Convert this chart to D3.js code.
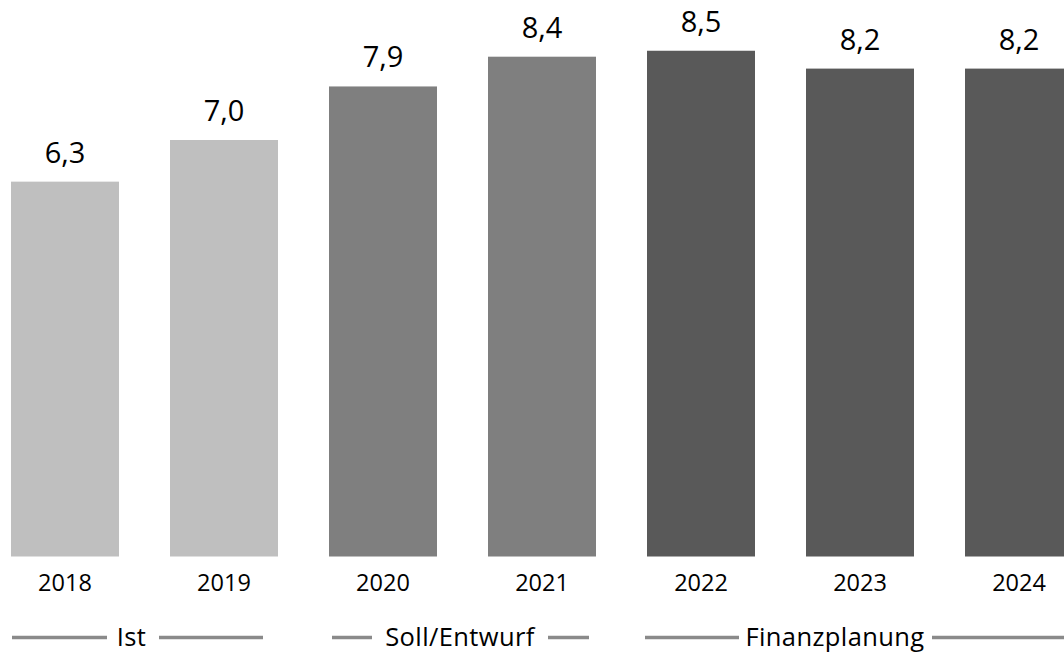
<!DOCTYPE html>
<html>
<head>
<meta charset="utf-8">
<script src="https://cdn.jsdelivr.net/npm/d3@7"></script>
<style>
  html, body { margin: 0; padding: 0; background: #fff; }
  svg { display: block; }
  text { font-family: "Open Sans", "Noto Sans", sans-serif; fill: #000; }
</style>
</head>
<body>
<svg id="chart" width="1064" height="654"></svg>
<script>
// ---- data ----
const years = ["2018", "2019", "2020", "2021", "2022", "2023", "2024"];
const values = [6.3, 7.0, 7.9, 8.4, 8.5, 8.2, 8.2];
const valueLabels = ["6,3", "7,0", "7,9", "8,4", "8,5", "8,2", "8,2"];
const phases = ["Ist", "Ist", "Soll/Entwurf", "Soll/Entwurf", "Finanzplanung", "Finanzplanung", "Finanzplanung"];
const legendLabels = ["Ist", "Soll/Entwurf", "Finanzplanung"];

// ---- layout ----
const W = 1064, H = 654;
const baseY = 556.5;
const svg = d3.select("#chart");

const x = d3.scaleBand().domain(years).range([11, 1073]).paddingInner(0.3208).paddingOuter(0);
const y = d3.scaleLinear().domain([0, 10]).range([baseY, baseY - 595]);
const color = d3.scaleOrdinal().domain(legendLabels).range(["#bfbfbf", "#7f7f7f", "#595959"]);

const data = years.map((yr, i) => ({ year: yr, value: values[i], label: valueLabels[i], phase: phases[i] }));

svg.append("g").selectAll("rect").data(data).join("rect")
  .attr("x", d => x(d.year))
  .attr("y", d => y(d.value))
  .attr("width", x.bandwidth())
  .attr("height", d => y(0) - y(d.value))
  .attr("fill", d => color(d.phase));

svg.append("g").selectAll("text").data(data).join("text")
  .attr("x", d => x(d.year) + x.bandwidth() / 2)
  .attr("y", d => y(d.value) - 19)
  .attr("text-anchor", "middle")
  .style("font-size", "29px")
  .text(d => d.label);

// x axis labels
const xAxis = d3.axisBottom(x).tickSize(0).tickPadding(0);
const gx = svg.append("g").attr("transform", `translate(0,${baseY})`).call(xAxis);
gx.select(".domain").remove();
gx.selectAll("text")
  .attr("y", 34.5).attr("dy", null)
  .style("font-size", "23.5px")
  .style("font-family", '"Open Sans", "Noto Sans", sans-serif')
  .attr("fill", "#000");

// legend (phase brackets)
const lineY = 637.5, textY = 646;
const legendItems = [
  { label: legendLabels[0], cx: 131.5, lines: [[12, 107], [159, 263]] },
  { label: legendLabels[1], cx: 460, lines: [[332, 372], [548, 589]] },
  { label: legendLabels[2], cx: 835, lines: [[645, 739], [932, 1064]] }
];
const lg = svg.append("g");
legendItems.forEach(item => {
  item.lines.forEach(l => {
    lg.append("line")
      .attr("x1", l[0]).attr("x2", l[1])
      .attr("y1", lineY).attr("y2", lineY)
      .attr("stroke", "#8a8a8a").attr("stroke-width", 3.5);
  });
  lg.append("text")
    .attr("x", item.cx).attr("y", textY)
    .attr("text-anchor", "middle")
    .style("font-size", "25.5px")
    .style("letter-spacing", "0.4px")
    .text(item.label);
});
</script>
</body>
</html>
